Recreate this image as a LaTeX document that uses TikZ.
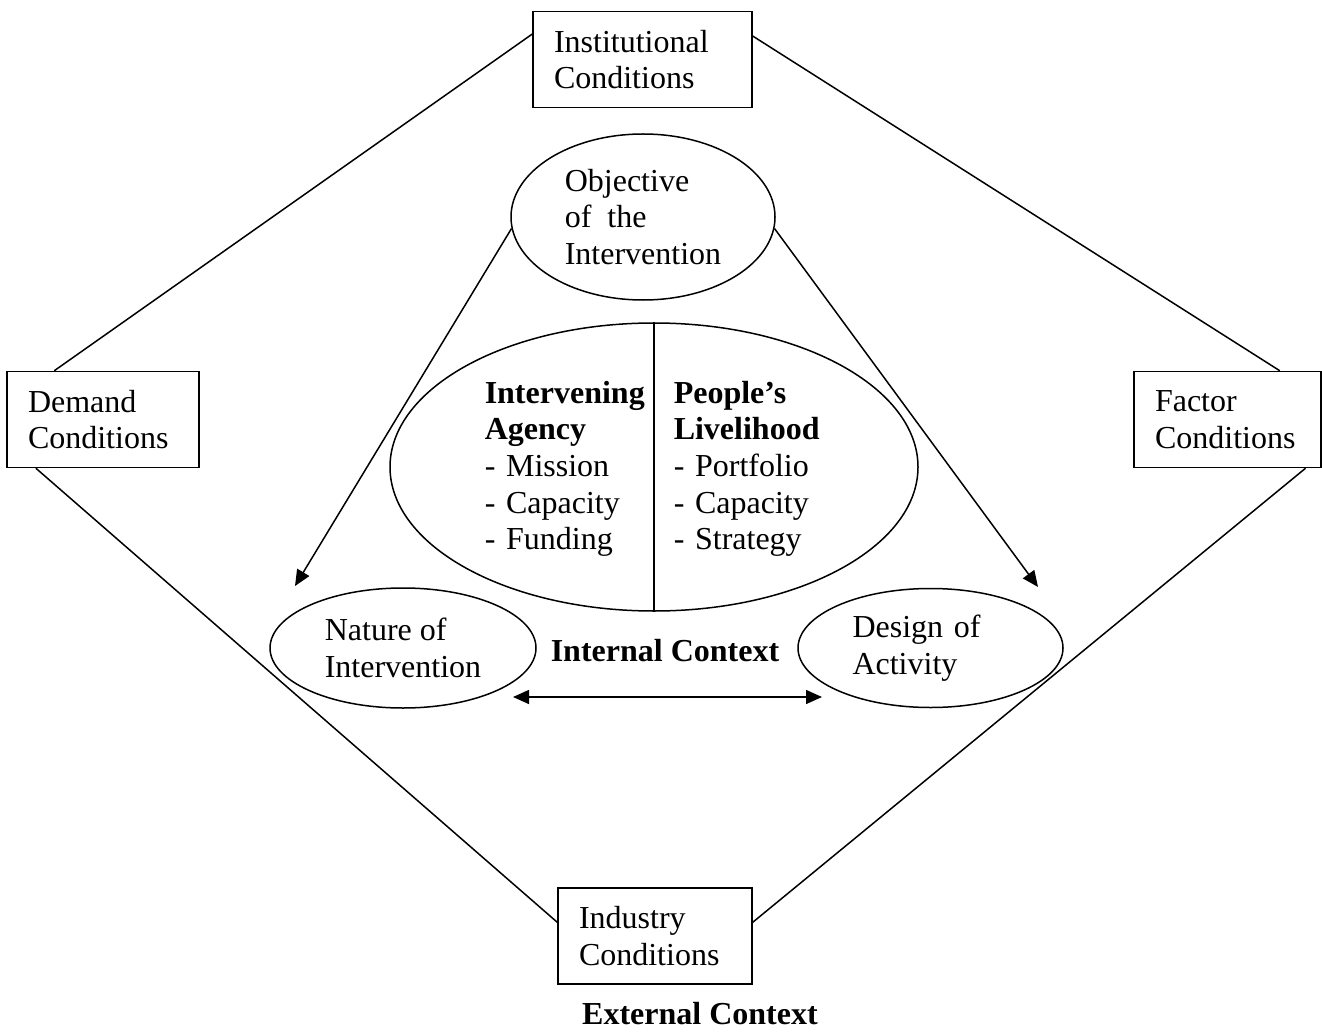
\documentclass[tikz,border=0pt]{standalone}
\usepackage{fontspec}
\setmainfont{Liberation Serif}
\usetikzlibrary{arrows.meta, shapes, positioning}
\newcommand{\diagfont}{\fontsize{32}{36.7}\selectfont}

\begin{document}
\begin{tikzpicture}[
        x=1pt, y=-1pt,
        line width=1.5pt,
        font=\diagfont,
        % Boxes of the external context, ovals of the internal one
        cond/.style={draw, rectangle, align=left, inner xsep=21pt, minimum height=96pt},
        oval/.style={draw, ellipse, align=left, inner sep=3pt},
        ctx/.style={font=\diagfont\bfseries, anchor=base},
        listing/.style={align=left, text width=170pt, inner sep=0pt, anchor=base west},
        >={Triangle[length=16pt, width=14pt]}
    ]
    \useasboundingbox (0,0) rectangle (1322,1032);

    % The four conditions around the outside
    \node[cond, text width=177pt] (inst) at (642.5,59.5) {Institutional\\Conditions};
    \node[cond, text width=150pt] (demand) at (103,419.5) {Demand\\Conditions};
    \node[cond, text width=145pt] (factor) at (1227.5,419.5) {Factor\\Conditions};
    \node[cond, text width=152pt] (industry) at (655,936) {Industry\\Conditions};

    \draw (inst.167) -- (demand.135);
    \draw (inst.12) -- (factor.43);
    \draw (demand.216) -- (industry.172);
    \draw (factor.328) -- (industry.8);

    % Internal context
    \node[oval, minimum width=264pt, minimum height=166pt] (obj) at (643,217) {Objective\\of~~the\\Intervention};
    \node[oval, minimum width=528pt, minimum height=288pt] (core) at (654,467) {};
    \node[oval, minimum width=266pt, minimum height=120pt] (nature) at (403,648) {Nature of\\Intervention};
    \node[oval, minimum width=265pt, minimum height=119pt, text width=156pt] (design) at (930.5,648) {Design of\\Activity};

    \draw (core.north) -- (core.south);
    \node[listing] (agency) at (484,403) {\textbf{Intervening}\\\textbf{Agency}\\- Mission\\- Capacity\\- Funding};
    \node[listing] (livelihood) at (673,403) {\textbf{People’s}\\\textbf{Livelihood}\\- Portfolio\\- Capacity\\- Strategy};

    % free ends of the arrows
    \coordinate (natTip) at (295,586);
    \coordinate (desTip) at (1038,587);
    \coordinate (lEnd) at (513,697);
    \coordinate (rEnd) at (822,697);

    \draw[->] (obj.185) -- (natTip);
    \draw[->] (obj.355) -- (desTip);
    \draw[<->] (lEnd) -- (rEnd);

    \node[ctx] (internal) at (665,661) {Internal Context};
    \node[ctx] (external) at (700,1024) {External Context};
\end{tikzpicture}
\end{document}
